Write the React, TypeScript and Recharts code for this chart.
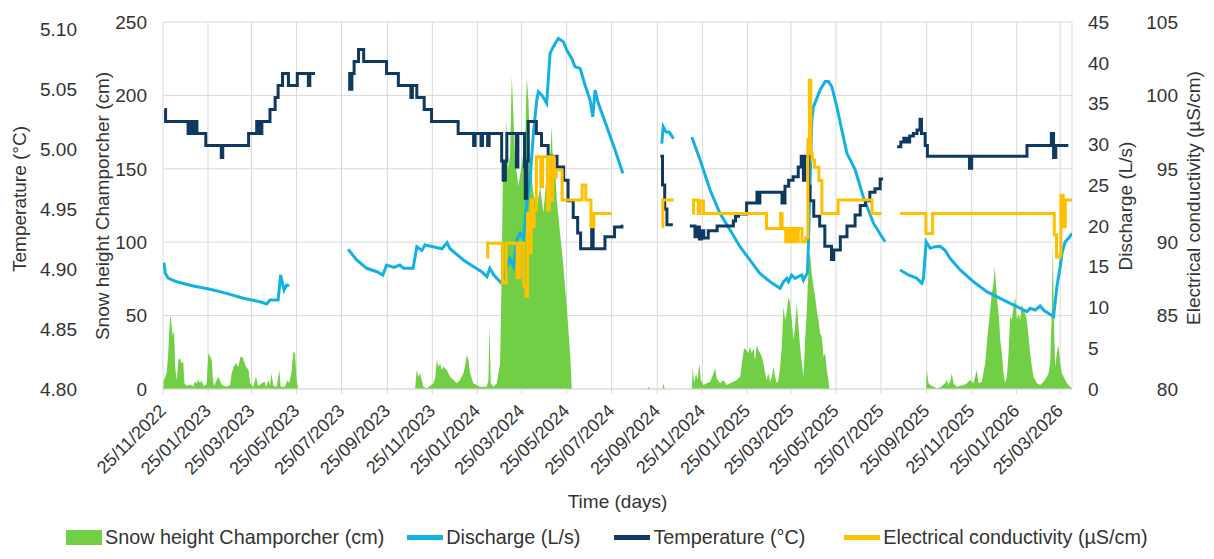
import { ComposedChart, Area, Line, XAxis, YAxis, CartesianGrid, Legend } from 'recharts';

const FONT = '"Liberation Sans", Arial, sans-serif';
const TEXT = '#333333';
const GRID = '#d9d9d9';

const SNOW_COLOR = '#70cf44';
const DISCHARGE_COLOR = '#13b1e3';
const TEMP_COLOR = '#0e3a62';
const EC_COLOR = '#ffc000';

// x values are days since 25/11/2022
const TICK_DAYS = [0, 61, 120, 181, 242, 304, 365, 426, 486, 547, 608, 670, 731, 792, 851, 912, 973, 1035, 1096, 1157, 1216];
const TICK_LABELS = [
  '25/11/2022', '25/01/2023', '25/03/2023', '25/05/2023', '25/07/2023', '25/09/2023', '25/11/2023',
  '25/01/2024', '25/03/2024', '25/05/2024', '25/07/2024', '25/09/2024', '25/11/2024', '25/01/2025',
  '25/03/2025', '25/05/2025', '25/07/2025', '25/09/2025', '25/11/2025', '25/01/2026', '25/03/2026',
];

const SNOW_TICKS = [0, 50, 100, 150, 200, 250];
const TEMP_TICKS = [4.8, 4.85, 4.9, 4.95, 5.0, 5.05, 5.1];
const DISCHARGE_TICKS = [0, 5, 10, 15, 20, 25, 30, 35, 40, 45];
const EC_TICKS = [80, 85, 90, 95, 100, 105];

type Pt = [number, number | null];

const SNOW: Pt[] = [
  [0.5, 0], [1, 6], [5, 11], [7, 24], [9.5, 49], [10.5, 49], [13, 36], [15, 40], [16.5, 15], [18.5, 6], [21, 20],
  [23, 21], [25, 17.5], [27.5, 18.6], [29, 4], [32, 2], [37, 3], [41, 1.6], [43, 5], [46, 4], [48, 6.6], [50, 4],
  [52, 6], [55, 2], [59, 3], [61.5, 24.3], [64, 22], [66, 19.7], [67.5, 8], [69, 2], [75, 8.4], [77, 6], [80, 2.7],
  [86, 1.6], [91, 2.7], [93, 10.7], [96, 15.2], [99, 17.5], [102, 15.2], [105, 22], [108, 21.6], [110, 18.6],
  [112.5, 15.2], [116, 12.9], [118, 3.9], [122.5, 1.6], [126, 8.4], [129, 2], [134, 3.9], [138, 5], [139.6, 1.6],
  [143, 6], [145, 2], [147, 10.7], [149.6, 2], [154, 1.6], [157.7, 12.9], [159.5, 1.6], [165, 1.6], [168.6, 6],
  [171, 3.9], [174, 10.7], [176.7, 25.4], [179, 24.3], [181, 6], [183.5, 0],
  [341.6, 0], [343.9, 12.9], [346.2, 8.4], [348.4, 10.7], [350.7, 6.1], [353, 1.6], [357.5, 0.5], [366.5, 3.9],
  [369, 8], [371, 19.7], [373.3, 15.2], [375.5, 17.5], [377.8, 13], [380, 15.2], [384.6, 13], [389.1, 8.4],
  [393.6, 6.1], [398.1, 3.9], [402.6, 6.1], [407.2, 10.7], [409.5, 16], [411.7, 23.2], [414, 19.7], [416.2, 10.7],
  [420.7, 3.9], [429.8, 1.6], [438.8, 1.6], [441.1, 6.1], [442.4, 43.6], [444.2, 3.9], [447.8, 1.6], [452.4, 3.9],
  [454.6, 10.7], [456.9, 17.5], [459.1, 80], [460.5, 140], [463.7, 150], [465.9, 184], [468.2, 150], [470.4, 160],
  [472.7, 213], [475, 185], [477.2, 156], [481.7, 138], [486.2, 153], [490.8, 169], [493, 212], [495.3, 197],
  [497.5, 158], [502, 133], [506.6, 124], [511.1, 138], [515.6, 120], [520.1, 147], [524.7, 158], [526.9, 179],
  [529.2, 140], [531.4, 151], [533.7, 129], [538.2, 106], [542.7, 83], [547.2, 56], [551.8, 24], [554, 0],
  [656, 0], [658, 1.5], [660, 0], [677, 0], [678.5, 4], [680, 0],
  [716.7, 0], [718, 15.2], [719.8, 3.9], [722.5, 10.7], [724.3, 6.1], [727, 17.5], [728.9, 6.1], [732.5, 2.7],
  [737, 3.9], [741.5, 5], [746, 10.7], [748.3, 14.1], [750.6, 7.3], [755, 3.9], [759.6, 6.1], [764.1, 2.7],
  [768.6, 3.9], [773.1, 5], [777.7, 6.1], [782.2, 8.4], [785.8, 22], [787.6, 27.7], [790.3, 26.6], [793.5, 24.3],
  [795.7, 28.8], [798, 24.3], [800.3, 27.7], [802.5, 19.7], [804.8, 30], [807, 26.6], [809.3, 24.3], [811.6, 22],
  [813.8, 17.5], [816, 10.7], [818.3, 6.1], [820.6, 10.7], [822.9, 5], [825.1, 8.4], [827.4, 15.2], [829.6, 8.4],
  [831.9, 3.9], [834.1, 6.1], [836.4, 15.2], [838.7, 28.8], [840.9, 56], [843.2, 47], [845.5, 52.7], [847.7, 62.9],
  [850, 58.3], [852.2, 47], [854.5, 33.4], [856.7, 42.5], [859, 58.3], [861.3, 42.5], [863.5, 28.8], [865.8, 17.5],
  [868, 8.4], [870.3, 33.4], [872.6, 53.8], [874.8, 81], [876.2, 92], [877.1, 91.3], [879.3, 78.9], [881.6, 69.8],
  [883.9, 62.9], [886.1, 53.8], [888.4, 47], [890.6, 37.9], [892.9, 35.6], [895.2, 22], [897.4, 24.3], [899.7, 13],
  [901.9, 6.1], [903.3, 0],
  [1034.3, 0], [1035.2, 12.9], [1037.5, 3.9], [1039.8, 2.7], [1044.3, 1.6], [1048.8, 0.5], [1053.3, 1],
  [1060.1, 3.9], [1062.4, 6.1], [1064.6, 2.7], [1066.9, 5], [1069.1, 10.7], [1071.4, 3.9], [1075.9, 1.6],
  [1085, 2.7], [1089.5, 3.9], [1094, 6.1], [1098.5, 3.9], [1103, 12.9], [1105.3, 3.9], [1109.8, 5], [1114.3, 17.5],
  [1116.6, 31], [1118.8, 42.5], [1121.1, 53.8], [1123.4, 65.2], [1125.6, 72], [1127.4, 83.3], [1129.2, 69.7],
  [1131, 58.3], [1133.3, 47], [1134.7, 33.4], [1137, 24.3], [1139.2, 10.7], [1141.4, 3.9], [1143.7, 8.4],
  [1146, 24.3], [1148.2, 49.5], [1150.5, 47], [1152.7, 56], [1155, 62.9], [1157.3, 47], [1159.5, 51.5], [1161.8, 47],
  [1164, 58.3], [1166.3, 53.8], [1168.6, 51.5], [1170.8, 47], [1173.1, 35.6], [1175.3, 24.3], [1177.6, 15.2],
  [1179.8, 8.4], [1184.4, 3.9], [1188.9, 2.7], [1193.4, 5], [1197.9, 8.4], [1200.2, 10.7], [1202.4, 17.5],
  [1204.3, 47], [1206.1, 99], [1207.4, 47], [1209.2, 15.2], [1211.5, 24.3], [1213.7, 30], [1216, 17.5],
  [1218.3, 10.7], [1220.5, 8.4], [1222.8, 6.1], [1225, 3.9], [1227.3, 2.7], [1229.6, 1.6], [1231.8, 0.5],
];

const DISCHARGE: Pt[] = [
  [1.4, 15.5], [3, 14.2], [7, 13.6], [18.5, 13.15], [41, 12.63], [64, 12.22], [86, 11.73], [109, 11.12],
  [131.5, 10.7], [140.5, 10.42], [145, 10.9], [156, 10.9], [159.5, 13.98], [164, 12.14], [167.7, 12.75],
  [171, 12.65], [172, null],
  [251, 17.13], [262.5, 15.82], [276, 14.8], [290, 14.38], [298, 13.98], [303, 15.2], [313, 14.9], [321, 15.2],
  [326, 14.8], [339, 14.8], [344, 17.45], [351, 17.0], [355, 17.65], [366, 17.45], [378, 17.2], [385, 17.94],
  [389, 17.2], [407, 15.82], [421, 15.0], [432, 14.38], [439, 13.77], [443, 14.8], [448, 14.0], [459, 12.96],
  [470, 16.02], [475, 15.0], [479.5, 18.27], [484, 19.09], [488.4, 18.48], [493, 22.77], [497.5, 25.62],
  [502, 31.35], [506.6, 35.43], [508.8, 36.45], [513.4, 36.04], [520, 35.03], [524.6, 41.16], [529, 41.97],
  [535.8, 43.0], [542.6, 42.58], [547.2, 41.56], [554, 40.54], [558.5, 39.51], [565.3, 39.32], [572, 37.27],
  [578.8, 35.43], [582.5, 33.38], [585.6, 36.66], [590, 35.03], [601.5, 32.16], [612.7, 29.3], [623.2, 26.45],
  [624, null],
  [676, 30.1], [678, 32.16], [682, 31.5], [686, 31.5], [692, 30.7], [693, null],
  [716.7, 30.9], [728, 28.08], [741.5, 24.4], [755, 21.5], [768.6, 19.5], [782, 17.45], [795.6, 15.8], [809, 14.18],
  [822.8, 13.15], [836.3, 12.35], [841, 13.15], [845.5, 13.57], [847.6, 13.15], [852, 13.98], [856.7, 13.57],
  [861, 13.77], [865.8, 13.98], [868, 13.36], [870.3, 13.77], [873.4, 14.18], [874.8, 17.86], [877, 25.6],
  [879.4, 33.0], [881.5, 34.6], [886, 35.6], [890.6, 36.66], [897.4, 37.7], [902, 37.7], [906.5, 37.06],
  [913.3, 34.6], [920, 31.75], [927, 28.9], [938, 26.9], [949, 23.6], [963, 20.3], [978.7, 18.06], [979, null],
  [999, 14.6], [1010.3, 13.98], [1021.7, 13.57], [1028.4, 12.96], [1030.7, 13.57], [1034.3, 18.06], [1039.8, 17.25],
  [1046.5, 17.45], [1053.3, 17.5], [1060, 17.0], [1066.9, 16.0], [1080.5, 14.6], [1098.5, 13.15], [1116.6, 11.93],
  [1134.6, 11.12], [1157.3, 10.09], [1170.8, 9.48], [1175.3, 9.89], [1182.1, 9.68], [1188.9, 10.18], [1193.4, 9.68],
  [1207, 8.86], [1211.5, 12.54], [1216, 15.0], [1218.3, 16.64], [1222.8, 18.06], [1227.3, 18.48], [1232, 19.09],
];

const TEMPERATURE: Pt[] = [
  [2, 5.033], [3.5, 5.023], [34, 5.013], [36, 5.023], [38, 5.013], [40, 5.023], [42, 5.013], [44, 5.023],
  [46, 5.013], [58, 5.003], [79, 4.993], [81, 5.003], [116, 5.013], [127, 5.023], [129, 5.013], [131, 5.023],
  [132, 5.013], [134, 5.023], [145, 5.033], [152, 5.043], [156, 5.053], [162, 5.063], [170, 5.053], [182, 5.063],
  [197, 5.053], [199, 5.063], [206, 5.063], [207, null],
  [251, 5.063], [253, 5.05], [256, 5.063], [259, 5.073], [265, 5.083], [272, 5.073], [303, 5.063], [319, 5.053],
  [336, 5.043], [338, 5.053], [344, 5.043], [354, 5.033], [364, 5.023], [400, 5.013], [421, 5.003], [423, 5.013],
  [431, 5.003], [433, 5.013], [440, 5.003], [442, 5.013], [459, 4.99], [461, 4.974], [464, 4.99], [466, 5.013],
  [479, 4.985], [481, 5.013], [490, 4.985], [491, 4.959], [493, 4.99], [495, 5.023], [506, 5.013], [513, 5.003],
  [522, 4.994], [534, 4.985], [543, 4.974], [549, 4.957], [556, 4.943], [562, 4.93], [566, 4.917], [581, 4.938],
  [583, 4.917], [599, 4.927], [612, 4.935], [622, 4.937], [623, null],
  [674, 4.994], [677, 4.97], [680, 4.95], [683, 4.937], [691, 4.937], [692, null],
  [714, 4.936], [721, 4.927], [724, 4.935], [727, 4.925], [730, 4.932], [733, 4.926], [739, 4.932], [751, 4.936],
  [773, 4.94], [776, 4.944], [780, 4.946], [791, 4.955], [805, 4.964], [807, 4.955], [809, 4.964], [839, 4.955],
  [843, 4.969], [848, 4.974], [854, 4.977], [861, 4.985], [865, 4.994], [868, 4.974], [870, 4.994], [875, 4.969],
  [877, 4.957], [882, 4.944], [890, 4.936], [897, 4.919], [906, 4.908], [909, 4.916], [918, 4.927], [927, 4.936],
  [938, 4.945], [945, 4.953], [952, 4.957], [958, 4.964], [965, 4.967], [972, 4.975], [976, 4.975], [977, null],
  [995, 5.002], [1000, 5.006], [1004, 5.009], [1008, 5.006], [1012, 5.011], [1017, 5.013], [1022, 5.016],
  [1026, 5.025], [1028, 5.013], [1033, 5.003], [1036, 4.994], [1093, 4.984], [1096, 4.994], [1171, 5.003],
  [1204, 5.013], [1207, 4.993], [1210, 5.003], [1227, 5.003],
];

const CONDUCTIVITY: Pt[] = [
  [438, 89.0], [440, 89.92], [460, 87.2], [465, 89.92], [480, 87.6], [484, 89.92], [489, 87.0], [492, 86.3],
  [494, 91.97], [496.5, 89.24], [499, 92.87], [501, 91.05], [503, 92.19], [506, 95.82], [512, 93.78], [514.5, 95.82],
  [521, 92.19], [523.5, 95.82], [526, 92.87], [528, 95.82], [530, 94.46], [533, 94.91], [541, 92.87], [568, 93.9],
  [573, 92.87], [580, 91.05], [584, 91.96], [608, 91.96], [609, null],
  [676, 91.05], [677.5, 92.87], [692, 92.87], [693, null],
  [718, 91.96], [719, 92.87], [725.5, 91.96], [728, 92.8], [732.5, 91.96], [818, 90.94], [837, 91.96], [839, 90.94],
  [844, 90.03], [847, 90.94], [851, 90.03], [854, 90.94], [858, 90.03], [861, 90.94], [866, 90.03], [871, 90.3],
  [874, 97], [876, 101.04], [878, 96.05], [880, 95.6], [883, 95.1], [889, 94.2], [893, 91.96], [915, 92.87],
  [961, 91.96], [974, 91.96], [975, null],
  [999, 91.96], [1034, 90.6], [1043, 91.96], [1208, 90.5], [1211, 89.0], [1216, 89.2], [1217, 93.2], [1220, 91.05],
  [1223, 92.87], [1232, 92.87],
];

const toRows = (pts: Pt[]) => pts.map(([d, v]) => ({ d, v }));

// gap = space before each legend entry
const LEGEND_ITEMS = [
  { name: 'Snow height Champorcher (cm)', color: SNOW_COLOR, box: true, gap: 66 },
  { name: 'Discharge (L/s)', color: DISCHARGE_COLOR, box: false, gap: 23 },
  { name: 'Temperature (°C)', color: TEMP_COLOR, box: false, gap: 34 },
  { name: 'Electrical conductivity (µS/cm)', color: EC_COLOR, box: false, gap: 39 },
];

function DateTick(props: any) {
  const { x, y, payload } = props;
  const i = TICK_DAYS.indexOf(payload.value);
  const ax = x + 4;
  const ay = y + 16;
  return (
    <text x={ax} y={ay} transform={`rotate(-45, ${ax}, ${ay})`} textAnchor="end" fill={TEXT} fontSize={18} fontFamily={FONT}>
      {TICK_LABELS[i]}
    </text>
  );
}

function EcTick(props: any) {
  const { x, y, payload } = props;
  return (
    <text x={x + 28} y={y} dy="0.355em" textAnchor="end" fill={TEXT} fontSize={19} fontFamily={FONT}>
      {payload.value}
    </text>
  );
}

// rotated axis title, dx from the axis box left edge, cy absolute
const axisTitle = (text: string, dx: number, cy: number) => (props: any) => {
  const cx = props.viewBox.x + dx;
  return (
    <text x={cx} y={cy} transform={`rotate(-90, ${cx}, ${cy})`} textAnchor="middle" dominantBaseline="central" fill={TEXT} fontSize={19} fontFamily={FONT}>
      {text}
    </text>
  );
};

function LegendRow() {
  return (
    <div style={{ display: 'flex', alignItems: 'center', fontFamily: FONT, fontSize: 19.8, color: TEXT, whiteSpace: 'nowrap' }}>
      {LEGEND_ITEMS.map((it) => (
        <div key={it.name} style={{ display: 'flex', alignItems: 'center', marginLeft: it.gap }}>
          <span style={{ display: 'inline-block', width: 36, height: it.box ? 15 : 5, background: it.color, marginRight: 3 }} />
          <span>{it.name}</span>
        </div>
      ))}
    </div>
  );
}

const tickStyle = { fill: TEXT, fontSize: 19, fontFamily: FONT };

export default function App() {
  return (
    <div style={{ width: 1214, height: 559, background: '#fff' }}>
      <style>{'body{margin:0}'}</style>
      <ComposedChart width={1214} height={559} margin={{ top: 22, right: 0, bottom: 0, left: 0 }}>
        <CartesianGrid yAxisId="snow" stroke={GRID} strokeWidth={1} />
        <XAxis
          type="number"
          dataKey="d"
          domain={[0, 1232]}
          ticks={TICK_DAYS}
          interval={0}
          allowDataOverflow
          height={170}
          tick={<DateTick />}
          tickSize={5}
          tickLine={{ stroke: GRID }}
          axisLine={{ stroke: GRID }}
          label={(p: any) => (
            <text x={p.viewBox.x + p.viewBox.width / 2} y={p.viewBox.y + 119} textAnchor="middle" fill={TEXT} fontSize={19} fontFamily={FONT}>
              Time (days)
            </text>
          )}
        />
        <YAxis
          yAxisId="snow"
          orientation="left"
          width={78}
          domain={[0, 250]}
          ticks={SNOW_TICKS}
          tick={tickStyle}
          tickLine={false}
          axisLine={false}
          tickMargin={10}
          label={axisTitle('Snow height Champorcher (cm)', 17, 206)}
        />
        <YAxis
          yAxisId="temp"
          orientation="left"
          width={85}
          domain={[4.8, 5.106]}
          ticks={TEMP_TICKS}
          allowDataOverflow
          tickFormatter={(v: number) => v.toFixed(2)}
          tick={tickStyle}
          tickLine={false}
          axisLine={false}
          label={axisTitle('Temperature (°C)', 19, 199)}
        />
        <YAxis
          yAxisId="dis"
          orientation="right"
          width={70}
          domain={[0, 45]}
          ticks={DISCHARGE_TICKS}
          tick={tickStyle}
          tickLine={false}
          axisLine={false}
          tickMargin={10}
          label={axisTitle('Discharge (L/s)', 53, 206)}
        />
        <YAxis
          yAxisId="ec"
          orientation="right"
          width={72}
          domain={[80, 105]}
          ticks={EC_TICKS}
          tick={<EcTick />}
          tickLine={false}
          axisLine={false}
          label={axisTitle('Electrical conductivity (µS/cm)', 51, 198)}
        />
        <Area
          yAxisId="snow"
          data={toRows(SNOW)}
          dataKey="v"
          type="linear"
          fill={SNOW_COLOR}
          fillOpacity={1}
          stroke="none"
          dot={false}
          activeDot={false}
          isAnimationActive={false}
        />
        <Line
          yAxisId="dis"
          data={toRows(DISCHARGE)}
          dataKey="v"
          type="linear"
          stroke={DISCHARGE_COLOR}
          strokeWidth={3}
          dot={false}
          activeDot={false}
          isAnimationActive={false}
        />
        <Line
          yAxisId="temp"
          data={toRows(TEMPERATURE)}
          dataKey="v"
          type="stepAfter"
          stroke={TEMP_COLOR}
          strokeWidth={3}
          dot={false}
          activeDot={false}
          isAnimationActive={false}
        />
        <Line
          yAxisId="ec"
          data={toRows(CONDUCTIVITY)}
          dataKey="v"
          type="stepAfter"
          stroke={EC_COLOR}
          strokeWidth={3}
          dot={false}
          activeDot={false}
          isAnimationActive={false}
        />
        <Legend
          layout="horizontal"
          verticalAlign="middle"
          align="center"
          wrapperStyle={{ top: 526, left: 0, width: 1214 }}
          content={<LegendRow />}
        />
      </ComposedChart>
    </div>
  );
}
